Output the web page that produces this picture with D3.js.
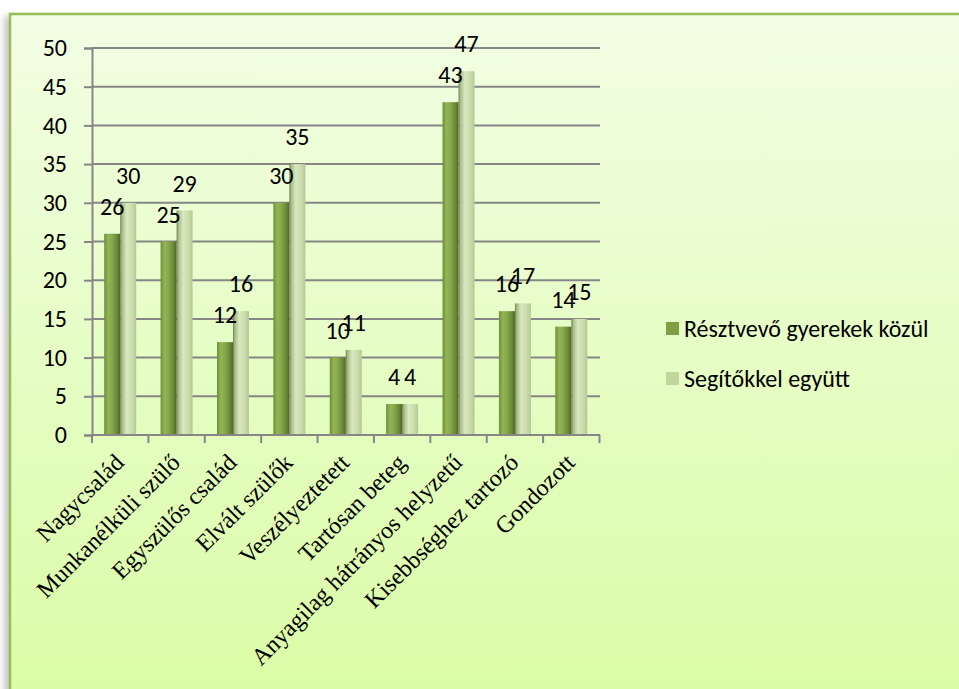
<!DOCTYPE html>
<html>
<head>
<meta charset="utf-8">
<script src="https://cdn.jsdelivr.net/npm/d3@7"></script>
<style>
  body { margin: 0; background: #fff; }
  svg { display: block; }
</style>
</head>
<body>
<div id="chart"></div>
<script>
// Values
const CATEGORIES = [
    'Nagycsalád', 'Munkanélküli szülő', 'Egyszülős család', 'Elvált szülők',
    'Veszélyeztetett', 'Tartósan beteg', 'Anyagilag hátrányos helyzetű',
    'Kisebbséghez tartozó', 'Gondozott'
];
const SERIES = ['Résztvevő gyerekek közül', 'Segítőkkel együtt'];
const PARTICIPANTS = [26, 25, 12, 30, 10, 4, 43, 16, 14];
const WITH_HELPERS = [30, 29, 16, 35, 11, 4, 47, 17, 15];
const Y_TICKS = [0, 5, 10, 15, 20, 25, 30, 35, 40, 45, 50];

const width = 959;
const height = 689;
const plot = { left: 92, right: 600, top: 48, bottom: 435 };
const labelFont = 'Carlito, Calibri, Lato, sans-serif';

const svg = d3.select('#chart')
    .append('svg')
    .attr('width', width)
    .attr('height', height);

const defs = svg.append('defs');

// Chart area background
const bg = defs.append('linearGradient')
    .attr('id', 'bg').attr('x1', 0).attr('y1', 0).attr('x2', 0).attr('y2', 1);
bg.append('stop').attr('offset', '0%').attr('stop-color', '#f2fee4');
bg.append('stop').attr('offset', '100%').attr('stop-color', '#dafca5');

defs.append('filter').attr('id', 'shadow')
    .attr('x', '-5%').attr('y', '-5%').attr('width', '110%').attr('height', '110%')
    .append('feGaussianBlur').attr('stdDeviation', 3);

// Bar gradients (cylinder-like shading)
function barGradient(id, stops) {
    const g = defs.append('linearGradient')
        .attr('id', id).attr('x1', 0).attr('y1', 0).attr('x2', 1).attr('y2', 0);
    stops.forEach(([o, c]) => g.append('stop').attr('offset', o).attr('stop-color', c));
}
barGradient('bar-dark', [
    ['0%', '#6f8f37'], ['25%', '#93b556'], ['50%', '#86a74a'],
    ['80%', '#6b8a36'], ['100%', '#4c6526']
]);
barGradient('bar-light', [
    ['0%', '#6f7f57'], ['12%', '#a8bc86'], ['40%', '#d8e8c0'],
    ['75%', '#cadcab'], ['100%', '#b3c893']
]);

svg.append('rect')
    .attr('x', 4).attr('y', 16)
    .attr('width', width).attr('height', height)
    .attr('fill', '#c8c8c8')
    .attr('filter', 'url(#shadow)');

svg.append('rect')
    .attr('x', 10).attr('y', 14)
    .attr('width', width + 10).attr('height', height + 10)
    .attr('fill', 'url(#bg)')
    .attr('stroke', '#9bbb59')
    .attr('stroke-width', 2.5);

// Scales
const y = d3.scaleLinear().domain([0, 50]).range([plot.bottom, plot.top]);
const x = d3.scaleBand().domain(CATEGORIES).range([plot.left, plot.right - 0.5]);
const xInner = d3.scaleBand().domain(SERIES).range([0, 32]);
const barOffset = (x.bandwidth() - 32) / 2;

// Gridlines
svg.append('g')
    .selectAll('line')
    .data(Y_TICKS.filter(d => d > 0))
    .join('line')
    .attr('x1', plot.left).attr('x2', plot.right)
    .attr('y1', d => y(d)).attr('y2', d => y(d))
    .attr('stroke', '#868686')
    .attr('stroke-width', 2);

// Y axis
const yAxis = svg.append('g')
    .attr('transform', `translate(${plot.left},0)`)
    .call(d3.axisLeft(y).tickValues(Y_TICKS).tickSize(8).tickPadding(17));
yAxis.select('.domain').attr('stroke', '#868686').attr('stroke-width', 2);
yAxis.selectAll('.tick line').attr('stroke', '#868686').attr('stroke-width', 2);
yAxis.selectAll('.tick text')
    .attr('font-family', labelFont)
    .attr('font-size', 24)
    .attr('fill', '#000');

// Bars
const rows = CATEGORIES.map((c, i) => ({ cat: c, values: [PARTICIPANTS[i], WITH_HELPERS[i]] }));
const groups = svg.append('g')
    .selectAll('g')
    .data(rows)
    .join('g')
    .attr('transform', d => `translate(${x(d.cat) + barOffset},0)`);

groups.selectAll('rect')
    .data(d => d.values.map((v, k) => ({ series: SERIES[k], value: v, k })))
    .join('rect')
    .attr('x', d => xInner(d.series))
    .attr('width', xInner.bandwidth())
    .attr('y', d => y(d.value))
    .attr('height', d => y(0) - y(d.value))
    .attr('fill', d => d.k === 0 ? 'url(#bar-dark)' : 'url(#bar-light)');

// X axis (ticks between categories)
const xAxisY = plot.bottom;
svg.append('line')
    .attr('x1', plot.left).attr('x2', plot.right)
    .attr('y1', xAxisY).attr('y2', xAxisY)
    .attr('stroke', '#868686').attr('stroke-width', 2);
svg.append('g')
    .selectAll('line')
    .data(d3.range(CATEGORIES.length + 1))
    .join('line')
    .attr('x1', i => plot.left + i * x.step())
    .attr('x2', i => plot.left + i * x.step())
    .attr('y1', xAxisY).attr('y2', xAxisY + 8)
    .attr('stroke', '#868686').attr('stroke-width', 2);

// Data labels
groups.selectAll('text')
    .data(d => d.values.map((v, k) => ({ series: SERIES[k], value: v })))
    .join('text')
    .attr('x', d => xInner(d.series) + xInner.bandwidth() / 2)
    .attr('y', d => y(d.value) - 19)
    .attr('text-anchor', 'middle')
    .attr('font-family', labelFont)
    .attr('font-size', 24)
    .attr('fill', '#000')
    .text(d => d.value);

// Category labels, rotated
svg.append('g')
    .selectAll('text')
    .data(CATEGORIES)
    .join('text')
    .attr('transform', d => `translate(${x(d) + x.bandwidth() / 2 + 5},${xAxisY + 29}) rotate(-45)`)
    .attr('text-anchor', 'end')
    .attr('font-family', '"Liberation Serif", "Times New Roman", serif')
    .attr('font-size', 24)
    .attr('fill', '#000')
    .text(d => d);

// Legend
const legend = svg.append('g')
    .attr('transform', 'translate(666,329)');
const legendItems = legend.selectAll('g')
    .data(SERIES)
    .join('g')
    .attr('transform', (d, i) => `translate(0,${i * 50})`);
legendItems.append('rect')
    .attr('x', 0).attr('y', -7)
    .attr('width', 13).attr('height', 13)
    .attr('fill', (d, i) => i === 0 ? '#7f9f45' : '#c3d69b');
legendItems.append('text')
    .attr('x', 18).attr('y', 8)
    .attr('font-family', labelFont)
    .attr('font-size', 24)
    .attr('fill', '#000')
    .text(d => d);
</script>
</body>
</html>
